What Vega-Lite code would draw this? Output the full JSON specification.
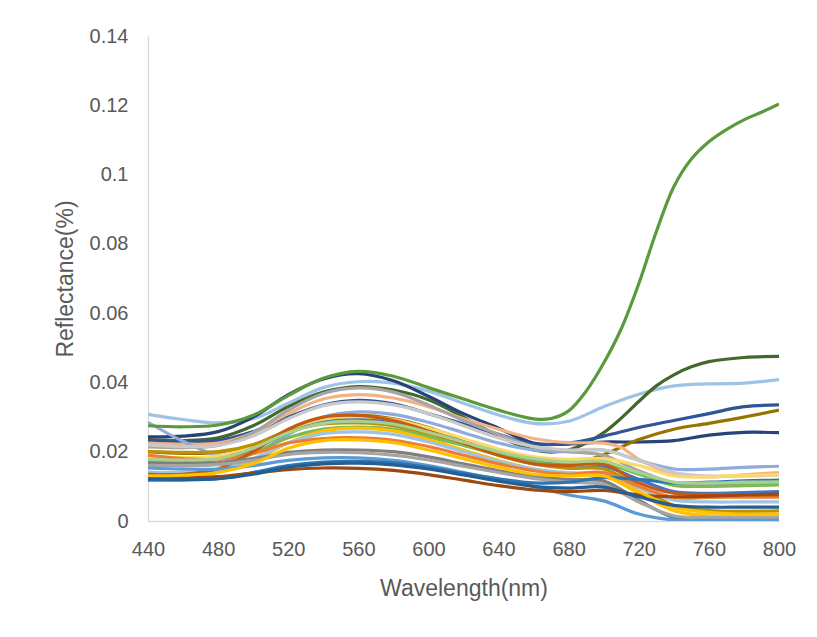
{
  "$schema": "https://vega.github.io/schema/vega-lite/v6.json",
  "width": 631,
  "height": 485,
  "autosize": {"type": "none"},
  "padding": {"left": 148, "top": 36, "right": 38, "bottom": 116},
  "background": "white",
  "config": {
    "view": {"stroke": null},
    "axis": {
      "grid": false,
      "ticks": false,
      "tickSize": 0,
      "domainColor": "#D9D9D9",
      "domainWidth": 1.3,
      "labelColor": "#595959",
      "titleColor": "#595959",
      "labelFont": "Liberation Sans",
      "titleFont": "Liberation Sans",
      "labelFontSize": 20,
      "titleFontSize": 23,
      "titleFontWeight": "normal"
    }
  },
  "data": {"values": [
{"s":"s02","w":440,"r":0.0308},{"s":"s02","w":460,"r":0.0293},{"s":"s02","w":480,"r":0.0283},{"s":"s02","w":500,"r":0.0295},{"s":"s02","w":520,"r":0.034},{"s":"s02","w":540,"r":0.0385},{"s":"s02","w":560,"r":0.0402},{"s":"s02","w":580,"r":0.0398},{"s":"s02","w":600,"r":0.0375},{"s":"s02","w":620,"r":0.034},{"s":"s02","w":640,"r":0.0306},{"s":"s02","w":660,"r":0.0282},{"s":"s02","w":680,"r":0.0288},{"s":"s02","w":700,"r":0.033},{"s":"s02","w":720,"r":0.0366},{"s":"s02","w":740,"r":0.039},{"s":"s02","w":760,"r":0.0396},{"s":"s02","w":780,"r":0.0398},{"s":"s02","w":800,"r":0.0408},
{"s":"s03","w":440,"r":0.0235},{"s":"s03","w":460,"r":0.0232},{"s":"s03","w":480,"r":0.024},{"s":"s03","w":500,"r":0.0275},{"s":"s03","w":520,"r":0.033},{"s":"s03","w":540,"r":0.0372},{"s":"s03","w":560,"r":0.0388},{"s":"s03","w":580,"r":0.0378},{"s":"s03","w":600,"r":0.035},{"s":"s03","w":620,"r":0.03},{"s":"s03","w":640,"r":0.0245},{"s":"s03","w":660,"r":0.0205},{"s":"s03","w":670,"r":0.0199},{"s":"s03","w":680,"r":0.0205},{"s":"s03","w":690,"r":0.0225},{"s":"s03","w":700,"r":0.0255},{"s":"s03","w":710,"r":0.0297},{"s":"s03","w":720,"r":0.0345},{"s":"s03","w":730,"r":0.039},{"s":"s03","w":740,"r":0.0422},{"s":"s03","w":750,"r":0.0445},{"s":"s03","w":760,"r":0.046},{"s":"s03","w":780,"r":0.0472},{"s":"s03","w":800,"r":0.0475},
{"s":"s04","w":440,"r":0.0243},{"s":"s04","w":460,"r":0.0245},{"s":"s04","w":480,"r":0.0258},{"s":"s04","w":500,"r":0.03},{"s":"s04","w":520,"r":0.0365},{"s":"s04","w":540,"r":0.041},{"s":"s04","w":560,"r":0.0425},{"s":"s04","w":580,"r":0.0405},{"s":"s04","w":600,"r":0.036},{"s":"s04","w":620,"r":0.031},{"s":"s04","w":640,"r":0.0268},{"s":"s04","w":660,"r":0.0225},{"s":"s04","w":680,"r":0.0222},{"s":"s04","w":700,"r":0.0228},{"s":"s04","w":720,"r":0.0228},{"s":"s04","w":740,"r":0.0232},{"s":"s04","w":760,"r":0.0248},{"s":"s04","w":780,"r":0.0256},{"s":"s04","w":800,"r":0.0255},
{"s":"s05","w":440,"r":0.0232},{"s":"s05","w":460,"r":0.0228},{"s":"s05","w":480,"r":0.0232},{"s":"s05","w":500,"r":0.0258},{"s":"s05","w":520,"r":0.03},{"s":"s05","w":540,"r":0.0335},{"s":"s05","w":560,"r":0.0348},{"s":"s05","w":580,"r":0.0338},{"s":"s05","w":600,"r":0.031},{"s":"s05","w":620,"r":0.028},{"s":"s05","w":640,"r":0.025},{"s":"s05","w":660,"r":0.0222},{"s":"s05","w":680,"r":0.0225},{"s":"s05","w":700,"r":0.0245},{"s":"s05","w":720,"r":0.027},{"s":"s05","w":740,"r":0.029},{"s":"s05","w":760,"r":0.031},{"s":"s05","w":780,"r":0.033},{"s":"s05","w":800,"r":0.0335},
{"s":"s06","w":440,"r":0.02},{"s":"s06","w":460,"r":0.0195},{"s":"s06","w":480,"r":0.0198},{"s":"s06","w":500,"r":0.022},{"s":"s06","w":520,"r":0.0262},{"s":"s06","w":540,"r":0.0295},{"s":"s06","w":560,"r":0.0305},{"s":"s06","w":580,"r":0.0295},{"s":"s06","w":600,"r":0.027},{"s":"s06","w":620,"r":0.0235},{"s":"s06","w":640,"r":0.02},{"s":"s06","w":660,"r":0.0175},{"s":"s06","w":680,"r":0.0163},{"s":"s06","w":700,"r":0.0192},{"s":"s06","w":720,"r":0.0235},{"s":"s06","w":740,"r":0.0265},{"s":"s06","w":760,"r":0.0282},{"s":"s06","w":780,"r":0.03},{"s":"s06","w":800,"r":0.032},
{"s":"s07","w":440,"r":0.0225},{"s":"s07","w":460,"r":0.0222},{"s":"s07","w":480,"r":0.0225},{"s":"s07","w":500,"r":0.0255},{"s":"s07","w":520,"r":0.031},{"s":"s07","w":540,"r":0.0352},{"s":"s07","w":560,"r":0.0365},{"s":"s07","w":580,"r":0.0355},{"s":"s07","w":600,"r":0.033},{"s":"s07","w":620,"r":0.0295},{"s":"s07","w":640,"r":0.0265},{"s":"s07","w":660,"r":0.0238},{"s":"s07","w":680,"r":0.0226},{"s":"s07","w":700,"r":0.0225},{"s":"s07","w":710,"r":0.0212},{"s":"s07","w":720,"r":0.0178},{"s":"s07","w":740,"r":0.0135},{"s":"s07","w":760,"r":0.0127},{"s":"s07","w":780,"r":0.0133},{"s":"s07","w":800,"r":0.014},
{"s":"s08","w":440,"r":0.0285},{"s":"s08","w":460,"r":0.023},{"s":"s08","w":480,"r":0.019},{"s":"s08","w":500,"r":0.0195},{"s":"s08","w":520,"r":0.025},{"s":"s08","w":540,"r":0.03},{"s":"s08","w":560,"r":0.0315},{"s":"s08","w":580,"r":0.0308},{"s":"s08","w":600,"r":0.0285},{"s":"s08","w":620,"r":0.0255},{"s":"s08","w":640,"r":0.0225},{"s":"s08","w":660,"r":0.0205},{"s":"s08","w":680,"r":0.02},{"s":"s08","w":700,"r":0.0205},{"s":"s08","w":720,"r":0.0175},{"s":"s08","w":740,"r":0.015},{"s":"s08","w":760,"r":0.015},{"s":"s08","w":780,"r":0.0155},{"s":"s08","w":800,"r":0.0158},
{"s":"s09","w":440,"r":0.0214},{"s":"s09","w":460,"r":0.0212},{"s":"s09","w":480,"r":0.0218},{"s":"s09","w":500,"r":0.0255},{"s":"s09","w":520,"r":0.032},{"s":"s09","w":540,"r":0.0368},{"s":"s09","w":560,"r":0.0384},{"s":"s09","w":580,"r":0.0372},{"s":"s09","w":600,"r":0.0335},{"s":"s09","w":620,"r":0.029},{"s":"s09","w":640,"r":0.025},{"s":"s09","w":660,"r":0.0215},{"s":"s09","w":680,"r":0.02},{"s":"s09","w":700,"r":0.019},{"s":"s09","w":720,"r":0.0145},{"s":"s09","w":740,"r":0.011},{"s":"s09","w":760,"r":0.0105},{"s":"s09","w":780,"r":0.0108},{"s":"s09","w":800,"r":0.011},
{"s":"s10","w":440,"r":0.022},{"s":"s10","w":460,"r":0.0215},{"s":"s10","w":480,"r":0.0218},{"s":"s10","w":500,"r":0.0245},{"s":"s10","w":520,"r":0.0295},{"s":"s10","w":540,"r":0.0333},{"s":"s10","w":560,"r":0.0344},{"s":"s10","w":580,"r":0.0335},{"s":"s10","w":600,"r":0.031},{"s":"s10","w":620,"r":0.0275},{"s":"s10","w":640,"r":0.024},{"s":"s10","w":660,"r":0.0215},{"s":"s10","w":680,"r":0.0205},{"s":"s10","w":700,"r":0.0205},{"s":"s10","w":720,"r":0.0175},{"s":"s10","w":740,"r":0.014},{"s":"s10","w":760,"r":0.013},{"s":"s10","w":780,"r":0.013},{"s":"s10","w":800,"r":0.0132},
{"s":"s11","w":440,"r":0.0185},{"s":"s11","w":460,"r":0.0183},{"s":"s11","w":480,"r":0.0188},{"s":"s11","w":500,"r":0.0215},{"s":"s11","w":520,"r":0.026},{"s":"s11","w":540,"r":0.0292},{"s":"s11","w":560,"r":0.03},{"s":"s11","w":580,"r":0.0293},{"s":"s11","w":600,"r":0.0268},{"s":"s11","w":620,"r":0.0238},{"s":"s11","w":640,"r":0.0208},{"s":"s11","w":660,"r":0.0185},{"s":"s11","w":680,"r":0.0178},{"s":"s11","w":700,"r":0.018},{"s":"s11","w":720,"r":0.016},{"s":"s11","w":740,"r":0.013},{"s":"s11","w":760,"r":0.0128},{"s":"s11","w":780,"r":0.0132},{"s":"s11","w":800,"r":0.0133},
{"s":"s12","w":440,"r":0.0175},{"s":"s12","w":460,"r":0.0172},{"s":"s12","w":480,"r":0.0178},{"s":"s12","w":500,"r":0.0208},{"s":"s12","w":520,"r":0.0255},{"s":"s12","w":540,"r":0.0285},{"s":"s12","w":560,"r":0.0292},{"s":"s12","w":580,"r":0.0283},{"s":"s12","w":600,"r":0.0258},{"s":"s12","w":620,"r":0.0228},{"s":"s12","w":640,"r":0.0198},{"s":"s12","w":660,"r":0.0172},{"s":"s12","w":680,"r":0.016},{"s":"s12","w":700,"r":0.0158},{"s":"s12","w":720,"r":0.012},{"s":"s12","w":740,"r":0.0085},{"s":"s12","w":760,"r":0.008},{"s":"s12","w":780,"r":0.0082},{"s":"s12","w":800,"r":0.0085},
{"s":"s13","w":440,"r":0.02},{"s":"s13","w":460,"r":0.0198},{"s":"s13","w":480,"r":0.02},{"s":"s13","w":500,"r":0.022},{"s":"s13","w":520,"r":0.0258},{"s":"s13","w":540,"r":0.028},{"s":"s13","w":560,"r":0.0283},{"s":"s13","w":580,"r":0.0275},{"s":"s13","w":600,"r":0.025},{"s":"s13","w":620,"r":0.022},{"s":"s13","w":640,"r":0.019},{"s":"s13","w":660,"r":0.0165},{"s":"s13","w":680,"r":0.0152},{"s":"s13","w":700,"r":0.015},{"s":"s13","w":720,"r":0.01},{"s":"s13","w":740,"r":0.0045},{"s":"s13","w":760,"r":0.003},{"s":"s13","w":780,"r":0.0028},{"s":"s13","w":800,"r":0.0029},
{"s":"s14","w":440,"r":0.0162},{"s":"s14","w":460,"r":0.016},{"s":"s14","w":480,"r":0.0165},{"s":"s14","w":500,"r":0.0195},{"s":"s14","w":520,"r":0.024},{"s":"s14","w":540,"r":0.0265},{"s":"s14","w":560,"r":0.0271},{"s":"s14","w":580,"r":0.0265},{"s":"s14","w":600,"r":0.0243},{"s":"s14","w":620,"r":0.0218},{"s":"s14","w":640,"r":0.0192},{"s":"s14","w":660,"r":0.017},{"s":"s14","w":680,"r":0.016},{"s":"s14","w":700,"r":0.0165},{"s":"s14","w":720,"r":0.0135},{"s":"s14","w":740,"r":0.0103},{"s":"s14","w":760,"r":0.01},{"s":"s14","w":780,"r":0.0102},{"s":"s14","w":800,"r":0.0104},
{"s":"s15","w":440,"r":0.0124},{"s":"s15","w":460,"r":0.0128},{"s":"s15","w":480,"r":0.014},{"s":"s15","w":500,"r":0.0175},{"s":"s15","w":520,"r":0.0225},{"s":"s15","w":540,"r":0.026},{"s":"s15","w":560,"r":0.0268},{"s":"s15","w":580,"r":0.026},{"s":"s15","w":600,"r":0.0235},{"s":"s15","w":620,"r":0.0205},{"s":"s15","w":640,"r":0.0175},{"s":"s15","w":660,"r":0.015},{"s":"s15","w":680,"r":0.0135},{"s":"s15","w":700,"r":0.013},{"s":"s15","w":720,"r":0.008},{"s":"s15","w":740,"r":0.003},{"s":"s15","w":760,"r":0.0015},{"s":"s15","w":780,"r":0.0012},{"s":"s15","w":800,"r":0.0012},
{"s":"s16","w":440,"r":0.0141},{"s":"s16","w":460,"r":0.014},{"s":"s16","w":480,"r":0.0148},{"s":"s16","w":500,"r":0.018},{"s":"s16","w":520,"r":0.0225},{"s":"s16","w":540,"r":0.0252},{"s":"s16","w":560,"r":0.0257},{"s":"s16","w":580,"r":0.025},{"s":"s16","w":600,"r":0.0228},{"s":"s16","w":620,"r":0.02},{"s":"s16","w":640,"r":0.0172},{"s":"s16","w":660,"r":0.015},{"s":"s16","w":680,"r":0.014},{"s":"s16","w":700,"r":0.0135},{"s":"s16","w":720,"r":0.0095},{"s":"s16","w":740,"r":0.006},{"s":"s16","w":760,"r":0.0055},{"s":"s16","w":780,"r":0.0055},{"s":"s16","w":800,"r":0.0055},
{"s":"s17","w":440,"r":0.019},{"s":"s17","w":460,"r":0.018},{"s":"s17","w":480,"r":0.0178},{"s":"s17","w":500,"r":0.0195},{"s":"s17","w":520,"r":0.0225},{"s":"s17","w":540,"r":0.0238},{"s":"s17","w":560,"r":0.024},{"s":"s17","w":580,"r":0.0233},{"s":"s17","w":600,"r":0.0215},{"s":"s17","w":620,"r":0.019},{"s":"s17","w":640,"r":0.0165},{"s":"s17","w":660,"r":0.0145},{"s":"s17","w":680,"r":0.0135},{"s":"s17","w":700,"r":0.014},{"s":"s17","w":720,"r":0.01},{"s":"s17","w":740,"r":0.0068},{"s":"s17","w":760,"r":0.0068},{"s":"s17","w":780,"r":0.0069},{"s":"s17","w":800,"r":0.0069},
{"s":"s18","w":440,"r":0.0135},{"s":"s18","w":460,"r":0.0135},{"s":"s18","w":480,"r":0.015},{"s":"s18","w":500,"r":0.02},{"s":"s18","w":520,"r":0.0265},{"s":"s18","w":540,"r":0.03},{"s":"s18","w":560,"r":0.0305},{"s":"s18","w":580,"r":0.029},{"s":"s18","w":600,"r":0.026},{"s":"s18","w":620,"r":0.0225},{"s":"s18","w":640,"r":0.019},{"s":"s18","w":660,"r":0.0165},{"s":"s18","w":680,"r":0.016},{"s":"s18","w":700,"r":0.0165},{"s":"s18","w":720,"r":0.011},{"s":"s18","w":740,"r":0.008},{"s":"s18","w":760,"r":0.0077},{"s":"s18","w":780,"r":0.0076},{"s":"s18","w":800,"r":0.0075},
{"s":"s19","w":440,"r":0.017},{"s":"s19","w":460,"r":0.0168},{"s":"s19","w":480,"r":0.0168},{"s":"s19","w":500,"r":0.018},{"s":"s19","w":520,"r":0.0198},{"s":"s19","w":540,"r":0.0205},{"s":"s19","w":560,"r":0.0205},{"s":"s19","w":580,"r":0.02},{"s":"s19","w":600,"r":0.0185},{"s":"s19","w":620,"r":0.0165},{"s":"s19","w":640,"r":0.0145},{"s":"s19","w":660,"r":0.0128},{"s":"s19","w":680,"r":0.012},{"s":"s19","w":700,"r":0.0115},{"s":"s19","w":720,"r":0.006},{"s":"s19","w":740,"r":0.001},{"s":"s19","w":760,"r":0.0002},{"s":"s19","w":780,"r":0.0002},{"s":"s19","w":800,"r":0.0002},
{"s":"s20","w":440,"r":0.016},{"s":"s20","w":460,"r":0.016},{"s":"s20","w":480,"r":0.0163},{"s":"s20","w":500,"r":0.0175},{"s":"s20","w":520,"r":0.0192},{"s":"s20","w":540,"r":0.0198},{"s":"s20","w":560,"r":0.0197},{"s":"s20","w":580,"r":0.019},{"s":"s20","w":600,"r":0.0176},{"s":"s20","w":620,"r":0.0158},{"s":"s20","w":640,"r":0.014},{"s":"s20","w":660,"r":0.0123},{"s":"s20","w":680,"r":0.0112},{"s":"s20","w":700,"r":0.0105},{"s":"s20","w":720,"r":0.0055},{"s":"s20","w":740,"r":0.0015},{"s":"s20","w":760,"r":0.001},{"s":"s20","w":780,"r":0.001},{"s":"s20","w":800,"r":0.001},
{"s":"s21","w":440,"r":0.0153},{"s":"s21","w":460,"r":0.015},{"s":"s21","w":480,"r":0.015},{"s":"s21","w":500,"r":0.016},{"s":"s21","w":520,"r":0.0175},{"s":"s21","w":540,"r":0.0182},{"s":"s21","w":560,"r":0.0182},{"s":"s21","w":580,"r":0.0175},{"s":"s21","w":600,"r":0.016},{"s":"s21","w":620,"r":0.014},{"s":"s21","w":640,"r":0.012},{"s":"s21","w":660,"r":0.01},{"s":"s21","w":680,"r":0.0075},{"s":"s21","w":700,"r":0.0058},{"s":"s21","w":720,"r":0.002},{"s":"s21","w":740,"r":0.0003},{"s":"s21","w":760,"r":0.0002},{"s":"s21","w":780,"r":0.0002},{"s":"s21","w":800,"r":0.0002},
{"s":"s22","w":440,"r":0.0118},{"s":"s22","w":460,"r":0.0118},{"s":"s22","w":480,"r":0.0122},{"s":"s22","w":500,"r":0.014},{"s":"s22","w":520,"r":0.016},{"s":"s22","w":540,"r":0.017},{"s":"s22","w":560,"r":0.0172},{"s":"s22","w":580,"r":0.0168},{"s":"s22","w":600,"r":0.0155},{"s":"s22","w":620,"r":0.0138},{"s":"s22","w":640,"r":0.0122},{"s":"s22","w":660,"r":0.011},{"s":"s22","w":680,"r":0.0112},{"s":"s22","w":700,"r":0.0125},{"s":"s22","w":720,"r":0.012},{"s":"s22","w":740,"r":0.011},{"s":"s22","w":760,"r":0.0112},{"s":"s22","w":780,"r":0.0116},{"s":"s22","w":800,"r":0.0118},
{"s":"s23","w":440,"r":0.013},{"s":"s23","w":460,"r":0.0125},{"s":"s23","w":480,"r":0.0128},{"s":"s23","w":500,"r":0.0138},{"s":"s23","w":520,"r":0.0148},{"s":"s23","w":540,"r":0.0153},{"s":"s23","w":560,"r":0.0152},{"s":"s23","w":580,"r":0.0146},{"s":"s23","w":600,"r":0.0134},{"s":"s23","w":620,"r":0.0118},{"s":"s23","w":640,"r":0.0102},{"s":"s23","w":660,"r":0.009},{"s":"s23","w":680,"r":0.0085},{"s":"s23","w":700,"r":0.0088},{"s":"s23","w":720,"r":0.0075},{"s":"s23","w":740,"r":0.007},{"s":"s23","w":760,"r":0.0072},{"s":"s23","w":780,"r":0.0075},{"s":"s23","w":800,"r":0.0078},
{"s":"s24","w":440,"r":0.013},{"s":"s24","w":460,"r":0.0132},{"s":"s24","w":480,"r":0.014},{"s":"s24","w":500,"r":0.0165},{"s":"s24","w":520,"r":0.021},{"s":"s24","w":540,"r":0.0232},{"s":"s24","w":560,"r":0.0234},{"s":"s24","w":580,"r":0.0226},{"s":"s24","w":600,"r":0.0205},{"s":"s24","w":620,"r":0.018},{"s":"s24","w":640,"r":0.0155},{"s":"s24","w":660,"r":0.0135},{"s":"s24","w":680,"r":0.013},{"s":"s24","w":700,"r":0.013},{"s":"s24","w":720,"r":0.0085},{"s":"s24","w":740,"r":0.004},{"s":"s24","w":760,"r":0.0025},{"s":"s24","w":780,"r":0.002},{"s":"s24","w":800,"r":0.002},
{"s":"s25","w":440,"r":0.0122},{"s":"s25","w":460,"r":0.012},{"s":"s25","w":480,"r":0.0122},{"s":"s25","w":500,"r":0.0135},{"s":"s25","w":520,"r":0.0155},{"s":"s25","w":540,"r":0.0165},{"s":"s25","w":560,"r":0.0167},{"s":"s25","w":580,"r":0.0162},{"s":"s25","w":600,"r":0.015},{"s":"s25","w":620,"r":0.0133},{"s":"s25","w":640,"r":0.0115},{"s":"s25","w":660,"r":0.01},{"s":"s25","w":680,"r":0.0095},{"s":"s25","w":700,"r":0.0098},{"s":"s25","w":720,"r":0.007},{"s":"s25","w":740,"r":0.0045},{"s":"s25","w":760,"r":0.004},{"s":"s25","w":780,"r":0.004},{"s":"s25","w":800,"r":0.004},
{"s":"s26","w":440,"r":0.0178},{"s":"s26","w":460,"r":0.0176},{"s":"s26","w":480,"r":0.018},{"s":"s26","w":500,"r":0.021},{"s":"s26","w":520,"r":0.0255},{"s":"s26","w":540,"r":0.0282},{"s":"s26","w":560,"r":0.0288},{"s":"s26","w":580,"r":0.028},{"s":"s26","w":600,"r":0.0256},{"s":"s26","w":620,"r":0.0228},{"s":"s26","w":640,"r":0.02},{"s":"s26","w":660,"r":0.018},{"s":"s26","w":680,"r":0.017},{"s":"s26","w":700,"r":0.0172},{"s":"s26","w":720,"r":0.014},{"s":"s26","w":740,"r":0.0112},{"s":"s26","w":760,"r":0.011},{"s":"s26","w":780,"r":0.0112},{"s":"s26","w":800,"r":0.0113},
{"s":"s01","w":440,"r":0.0275},{"s":"s01","w":460,"r":0.0272},{"s":"s01","w":480,"r":0.0277},{"s":"s01","w":500,"r":0.0305},{"s":"s01","w":520,"r":0.0362},{"s":"s01","w":540,"r":0.0412},{"s":"s01","w":560,"r":0.0432},{"s":"s01","w":580,"r":0.0418},{"s":"s01","w":600,"r":0.0385},{"s":"s01","w":620,"r":0.0352},{"s":"s01","w":640,"r":0.032},{"s":"s01","w":660,"r":0.0295},{"s":"s01","w":670,"r":0.0296},{"s":"s01","w":680,"r":0.0318},{"s":"s01","w":690,"r":0.0375},{"s":"s01","w":700,"r":0.0456},{"s":"s01","w":710,"r":0.0555},{"s":"s01","w":720,"r":0.0685},{"s":"s01","w":730,"r":0.0835},{"s":"s01","w":740,"r":0.0965},{"s":"s01","w":750,"r":0.1045},{"s":"s01","w":760,"r":0.1095},{"s":"s01","w":770,"r":0.113},{"s":"s01","w":780,"r":0.1158},{"s":"s01","w":790,"r":0.118},{"s":"s01","w":800,"r":0.1204}
  ]},
  "mark": {"type": "line", "interpolate": "catmull-rom", "strokeWidth": 3.2, "clip": true},
  "encoding": {
    "x": {"field": "w", "type": "quantitative", "title": "Wavelength(nm)",
      "scale": {"domain": [440, 800], "nice": false, "zero": false},
      "axis": {"values": [440, 480, 520, 560, 600, 640, 680, 720, 760, 800], "labelPadding": 18, "titlePadding": 18, "labelFlush": false}},
    "y": {"field": "r", "type": "quantitative", "title": "Reflectance(%)",
      "scale": {"domain": [0, 0.14], "nice": false},
      "axis": {"values": [0, 0.02, 0.04, 0.06, 0.08, 0.1, 0.12, 0.14], "format": "~g", "labelPadding": 20, "titlePadding": 12}},
    "color": {"field": "s", "type": "nominal", "legend": null, "sort": null,
      "scale": {
        "domain": ["s02","s03","s04","s05","s06","s07","s08","s09","s10","s11","s12","s13","s14","s15","s16","s17","s18","s19","s20","s21","s22","s23","s24","s25","s26","s01"],
        "range": ["#9DC3E6","#43682B","#264478","#2F5597","#997300","#F4B183","#8FAADC","#A5A5A5","#C9C9C9","#FFD966","#4472C4","#BF9000","#7FB956","#FFC000","#9DC3E6","#ED7D31","#C55A11","#7F7F7F","#A5A5A5","#5B9BD5","#2E75B6","#9E480E","#FFC000","#255E91","#A9D18E","#5A9A3C"]}},
    "order": {"field": "w"}
  }
}
